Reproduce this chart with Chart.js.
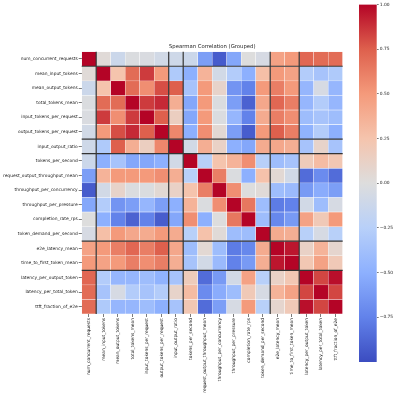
<!DOCTYPE html>
<html>
<head>
<meta charset="utf-8">
<script src="https://cdn.jsdelivr.net/npm/chart.js@4.4.1/dist/chart.umd.min.js"></script>
<style>
  html, body { margin: 0; padding: 0; background: #fff; }
  #wrap { position: relative; width: 397px; height: 395px; }
  #heat { position: absolute; left: 0; top: 0; }
  #cbar { position: absolute; left: 340px; top: 0; }
</style>
</head>
<body>
<div id="wrap">
  <canvas id="heat" width="397" height="395"></canvas>
  <canvas id="cbar" width="57" height="395"></canvas>
</div>
<script>
// variables, in plot order
const names = [
  'num_concurrent_requests', 'mean_input_tokens', 'mean_output_tokens',
  'total_tokens_mean', 'input_tokens_per_request', 'output_tokens_per_request',
  'input_output_ratio', 'tokens_per_second', 'request_output_throughput_mean',
  'throughput_per_concurrency', 'throughput_per_pressure', 'completion_rate_rps',
  'token_demand_per_second', 'e2e_latency_mean', 'time_to_first_token_mean',
  'latency_per_output_token', 'latency_per_total_token', 'ttft_fraction_of_e2e',
];

// spearman correlations
const corr = [
  [1.00, 0.03, -0.12, -0.02, -0.03, -0.08, -0.10, -0.12, -0.60, -0.93, -0.55, 0.00, -0.05, 0.45, 0.50, 0.72, 0.70, 0.70],
  [0.03, 1.00, 0.25, 0.70, 0.85, 0.50, -0.30, -0.50, 0.35, -0.08, -0.28, -0.50, 0.28, 0.50, 0.45, -0.28, -0.35, -0.30],
  [-0.12, 0.25, 1.00, 0.70, 0.55, 0.80, 0.75, -0.35, 0.50, 0.10, -0.65, -0.75, 0.50, 0.62, 0.50, -0.45, -0.05, -0.45],
  [-0.02, 0.70, 0.70, 1.00, 0.85, 0.90, 0.38, -0.55, 0.50, -0.02, -0.60, -0.90, 0.42, 0.72, 0.62, -0.45, -0.28, -0.45],
  [-0.03, 0.85, 0.55, 0.85, 1.00, 0.75, 0.15, -0.55, 0.50, -0.02, -0.45, -0.75, 0.40, 0.62, 0.55, -0.40, -0.35, -0.40],
  [-0.08, 0.50, 0.80, 0.90, 0.75, 1.00, 0.58, -0.50, 0.55, 0.05, -0.60, -0.92, 0.50, 0.75, 0.62, -0.48, -0.28, -0.50],
  [-0.10, -0.30, 0.75, 0.38, 0.15, 0.58, 1.00, -0.08, 0.38, 0.12, -0.50, -0.55, 0.40, 0.42, 0.38, -0.35, 0.10, -0.35],
  [-0.12, -0.50, -0.35, -0.55, -0.55, -0.50, -0.08, 1.00, -0.25, 0.25, 0.35, 0.55, -0.25, -0.40, -0.35, 0.18, 0.30, 0.22],
  [-0.60, 0.35, 0.50, 0.50, 0.50, 0.55, 0.38, -0.25, 1.00, 0.62, -0.02, -0.50, 0.26, 0.05, -0.08, -0.85, -0.70, -0.85],
  [-0.93, -0.08, 0.10, -0.02, -0.02, 0.05, 0.12, 0.25, 0.62, 1.00, 0.55, 0.00, 0.03, -0.40, -0.42, -0.62, -0.52, -0.60],
  [-0.55, -0.28, -0.65, -0.60, -0.45, -0.60, -0.50, 0.35, -0.02, 0.55, 1.00, 0.65, -0.40, -0.78, -0.75, -0.08, -0.40, -0.05],
  [0.00, -0.50, -0.75, -0.90, -0.75, -0.92, -0.55, 0.55, -0.50, 0.00, 0.65, 1.00, -0.40, -0.72, -0.62, 0.45, 0.20, 0.50],
  [-0.05, 0.28, 0.50, 0.42, 0.40, 0.50, 0.40, -0.25, 0.26, 0.03, -0.40, -0.40, 1.00, 0.40, 0.38, -0.25, -0.05, -0.25],
  [0.45, 0.50, 0.62, 0.72, 0.62, 0.75, 0.42, -0.40, 0.05, -0.40, -0.78, -0.72, 0.40, 1.00, 0.95, 0.12, 0.35, 0.08],
  [0.50, 0.45, 0.50, 0.62, 0.55, 0.62, 0.38, -0.35, -0.08, -0.42, -0.75, -0.62, 0.38, 0.95, 1.00, 0.22, 0.45, 0.20],
  [0.72, -0.28, -0.45, -0.45, -0.40, -0.48, -0.35, 0.18, -0.85, -0.62, -0.08, 0.45, -0.25, 0.12, 0.22, 1.00, 0.82, 0.97],
  [0.70, -0.35, -0.05, -0.28, -0.35, -0.28, 0.10, 0.30, -0.70, -0.52, -0.40, 0.20, -0.05, 0.35, 0.45, 0.82, 1.00, 0.82],
  [0.70, -0.30, -0.45, -0.45, -0.40, -0.50, -0.35, 0.22, -0.85, -0.60, -0.05, 0.50, -0.25, 0.08, 0.20, 0.97, 0.82, 1.00],
];

// group boundaries (index where a new group starts)
const groupBreaks = [1, 6, 7, 13, 15];

// colorbar ticks
const cbTicks = [-0.75, -0.5, -0.25, 0, 0.25, 0.5, 0.75, 1];

const FONT = 'DejaVu Sans';
const TXT = '#222';

// coolwarm anchors
const cw = [
  [59, 76, 192], [98, 130, 234], [141, 176, 254], [184, 208, 249], [221, 221, 221],
  [245, 196, 173], [244, 154, 123], [222, 96, 77], [180, 4, 38],
];
function coolwarm(v) {
  let t = Math.max(0, Math.min(1, (v + 1) / 2)) * 8;
  const i = Math.min(Math.floor(t), 7);
  const f = t - i;
  const c = cw[i].map((a, k) => Math.round(a + (cw[i + 1][k] - a) * f));
  return `rgb(${c[0]},${c[1]},${c[2]})`;
}

// lignes de séparation des groupes
const groupLines = {
  id: 'groupLines',
  afterDatasetsDraw(chart) {
    const { ctx, chartArea: a, scales: { x, y } } = chart;
    ctx.save();
    ctx.strokeStyle = '#333';
    ctx.lineWidth = 1.2;
    for (const k of groupBreaks) {
      const px = (x.getPixelForValue(k - 1) + x.getPixelForValue(k)) / 2;
      const py = y.getPixelForValue(k);
      ctx.beginPath();
      ctx.moveTo(px, a.top); ctx.lineTo(px, a.bottom);
      ctx.moveTo(a.left, py); ctx.lineTo(a.right, py);
      ctx.stroke();
    }
    ctx.restore();
  },
};

new Chart(document.getElementById('heat'), {
  type: 'bar',
  data: {
    labels: names,
    datasets: corr.map((row) => ({
      data: row.map(() => 1), // one row unit tall
      backgroundColor: row.map(coolwarm),
      borderColor: 'rgba(255,255,255,0.7)',
      borderWidth: 0.5,
      borderSkipped: false,
      barPercentage: 1,
      categoryPercentage: 1,
    })),
  },
  options: {
    responsive: false,
    animation: false,
    layout: { padding: { top: 2.3, right: 54.3, left: 0, bottom: 0 } },
    plugins: {
      legend: { display: false },
      tooltip: { enabled: false },
      title: {
        display: true,
        fullSize: false,
        text: 'Spearman Correlation (Grouped)',
        color: TXT,
        font: { family: FONT, size: 5.3, weight: 'normal' },
        padding: { top: 41, bottom: 2 },
      },
    },
    scales: {
      x: {
        stacked: true,
        afterFit: (s) => { s.height = 81; },
        grid: { drawOnChartArea: false, offset: false, color: TXT, tickLength: 3, lineWidth: 0.6 },
        border: { display: false },
        ticks: {
          autoSkip: false, minRotation: 90, maxRotation: 90, padding: 1,
          color: TXT, font: { family: FONT, size: 4.4 },
        },
      },
      y: {
        stacked: true,
        reverse: true,
        min: 0,
        max: names.length,
        afterFit: (s) => { s.width = 81.7; },
        afterBuildTicks: (s) => { s.ticks = names.map((_, i) => ({ value: i + 0.5 })); },
        grid: { drawOnChartArea: false, color: TXT, tickLength: 3, lineWidth: 0.6 },
        border: { display: false },
        ticks: {
          autoSkip: false, padding: 1,
          color: TXT, font: { family: FONT, size: 4.4 },
          callback: (v, i) => names[i],
        },
      },
    },
  },
  plugins: [groupLines],
});

// barre de couleur
new Chart(document.getElementById('cbar'), {
  type: 'bar',
  data: {
    labels: [''],
    datasets: [{
      data: [[-1, 1]],
      backgroundColor: (c) => {
        const a = c.chart.chartArea;
        if (!a) return null;
        const g = c.chart.ctx.createLinearGradient(0, a.bottom, 0, a.top);
        cw.forEach((rgb, i) => g.addColorStop(i / 8, `rgb(${rgb.join(',')})`));
        return g;
      },
      borderWidth: 0,
      barPercentage: 1,
      categoryPercentage: 1,
    }],
  },
  options: {
    responsive: false,
    animation: false,
    layout: { padding: { top: 4.5, left: 19, right: 0, bottom: 33 } },
    plugins: { legend: { display: false }, tooltip: { enabled: false } },
    scales: {
      x: { display: false },
      y: {
        position: 'right',
        min: -1,
        max: 1,
        afterFit: (s) => { s.width = 20.3; },
        afterBuildTicks: (s) => { s.ticks = cbTicks.map((v) => ({ value: v })); },
        grid: { drawOnChartArea: false, color: TXT, tickLength: 2, lineWidth: 0.6 },
        border: { display: false },
        ticks: {
          padding: 1, color: TXT, font: { family: FONT, size: 4.4 },
          callback: (v) => (v < 0 ? '\u2212' : '') + Math.abs(v).toFixed(2),
        },
      },
    },
  },
});
</script>
</body>
</html>
